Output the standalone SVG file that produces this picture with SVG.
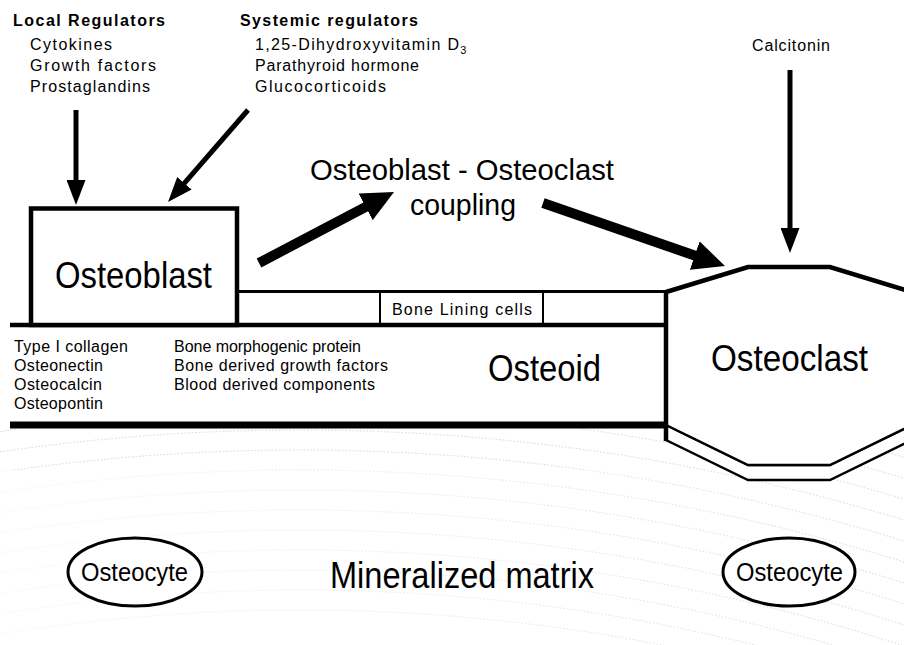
<svg xmlns="http://www.w3.org/2000/svg" width="904" height="645" viewBox="0 0 904 645">
<style>
text{font-family:"Liberation Sans",Arial,sans-serif;fill:#000}
.hd{font-size:16px;font-weight:bold}
.sm{font-size:16px}
.big{font-size:36px}
.cp{font-size:30px}
.oc{font-size:25px}
.thin{stroke:#000;stroke-width:5;fill:none;marker-end:url(#ah)}
.thick{stroke:#000;stroke-width:10;fill:none;marker-end:url(#bh)}
.tex{fill:none;stroke:#d4d4d4;stroke-width:1;stroke-dasharray:1.5 2}
</style>
<defs>
<marker id="ah" markerUnits="userSpaceOnUse" markerWidth="26" markerHeight="19" viewBox="0 0 26 19" refX="4" refY="9.5" orient="auto"><path d="M0,0 L25,9.5 L0,19 z" fill="#000"/></marker>
<marker id="bh" markerUnits="userSpaceOnUse" markerWidth="33" markerHeight="30" viewBox="0 0 33 30" refX="6" refY="15" orient="auto"><path d="M0,0 L32,15 L0,30 z" fill="#000"/></marker>
<clipPath id="mat"><rect x="0" y="429" width="904" height="216"/></clipPath>
<linearGradient id="fade" x1="0" y1="0" x2="1" y2="0">
<stop offset="0" stop-color="#fff" stop-opacity="0.75"/>
<stop offset="0.6" stop-color="#fff" stop-opacity="0.35"/>
<stop offset="1" stop-color="#fff" stop-opacity="0"/>
</linearGradient>
</defs>
<rect width="904" height="645" fill="#fff"/>
<g id="texture" clip-path="url(#mat)">
<circle class="tex" cx="300" cy="2500" r="2150"/>
<circle class="tex" cx="300" cy="2500" r="2130"/>
<circle class="tex" cx="300" cy="2500" r="2110"/>
<circle class="tex" cx="300" cy="2500" r="2090"/>
<circle class="tex" cx="300" cy="2500" r="2070"/>
<circle class="tex" cx="300" cy="2500" r="2050"/>
<circle class="tex" cx="300" cy="2500" r="2030"/>
<circle class="tex" cx="300" cy="2500" r="2010"/>
<circle class="tex" cx="300" cy="2500" r="1990"/>
<circle class="tex" cx="300" cy="2500" r="1970"/>
<circle class="tex" cx="300" cy="2500" r="1950"/>
<circle class="tex" cx="300" cy="2500" r="1930"/>
<circle class="tex" cx="300" cy="2500" r="1910"/>
<circle class="tex" cx="300" cy="2500" r="1890"/>
<rect x="0" y="470" width="904" height="175" fill="url(#fade)"/>
</g>
<g id="regulator-labels">
<text class="hd" x="13" y="26" textLength="152">Local Regulators</text>
<text class="sm" x="30" y="50" textLength="82">Cytokines</text>
<text class="sm" x="30" y="71" textLength="126">Growth factors</text>
<text class="sm" x="30" y="92" textLength="120">Prostaglandins</text>
<text class="hd" x="240" y="26" textLength="178">Systemic regulators</text>
<text class="sm" x="255" y="50"><tspan textLength="204">1,25-Dihydroxyvitamin D</tspan><tspan font-size="11" dy="4">3</tspan></text>
<text class="sm" x="255" y="71" textLength="164">Parathyroid hormone</text>
<text class="sm" x="255" y="92" textLength="131">Glucocorticoids</text>
<text class="sm" x="752" y="51" textLength="78">Calcitonin</text>
</g>
<g id="layers">
<line x1="237" y1="291.5" x2="666" y2="291.5" stroke="#000" stroke-width="3"/>
<line x1="380" y1="292" x2="380" y2="325" stroke="#000" stroke-width="2"/>
<line x1="543" y1="292" x2="543" y2="325" stroke="#000" stroke-width="2"/>
<line x1="10" y1="325" x2="666" y2="325" stroke="#000" stroke-width="4.5"/>
<line x1="10" y1="425" x2="666" y2="425" stroke="#000" stroke-width="7"/>
</g>
<g id="bone-lining-cells">
<text class="sm" x="392" y="315" textLength="140">Bone Lining cells</text>
</g>
<g id="osteoid">
<text class="sm" x="14" y="352" textLength="114">Type I collagen</text>
<text class="sm" x="14" y="371" textLength="89">Osteonectin</text>
<text class="sm" x="14" y="390" textLength="88">Osteocalcin</text>
<text class="sm" x="14" y="409" textLength="89">Osteopontin</text>
<text class="sm" x="174" y="352" textLength="187">Bone morphogenic protein</text>
<text class="sm" x="174" y="371" textLength="214">Bone derived growth factors</text>
<text class="sm" x="174" y="390" textLength="201">Blood derived components</text>
<text class="big" x="488" y="381" textLength="113" lengthAdjust="spacingAndGlyphs">Osteoid</text>
</g>
<g id="osteoblast">
<rect x="31" y="208.5" width="206" height="116.5" fill="#fff" stroke="#000" stroke-width="4.5"/>
<text class="big" x="55" y="288" textLength="157" lengthAdjust="spacingAndGlyphs">Osteoblast</text>
</g>
<g id="osteoclast">
<polygon points="666,425 748,465 830,465 912,425 912,440 830,480 748,480 666,440" fill="#fff" stroke="#000" stroke-width="2.5" stroke-linejoin="miter"/>
<polygon points="666,292 748,267 830,267 912,292 912,425 830,465 748,465 666,425" fill="#fff" stroke="none"/>
<path d="M666,425 L748,465 L830,465 L912,425" fill="none" stroke="#000" stroke-width="2.5"/>
<path d="M666,441 L666,292 L748,267 L830,267 L912,292" fill="none" stroke="#000" stroke-width="4.5" stroke-linejoin="miter"/>
<text class="big" x="711" y="371" textLength="157" lengthAdjust="spacingAndGlyphs">Osteoclast</text>
</g>
<g id="coupling">
<text class="cp" x="310" y="180" textLength="304" lengthAdjust="spacingAndGlyphs">Osteoblast - Osteoclast</text>
<text class="cp" x="410" y="215" textLength="106" lengthAdjust="spacingAndGlyphs">coupling</text>
</g>
<g id="osteocyte-left">
<ellipse cx="135" cy="572" rx="67" ry="34" fill="#fff" stroke="#000" stroke-width="3"/>
<text class="oc" x="81" y="581" textLength="107" lengthAdjust="spacingAndGlyphs">Osteocyte</text>
</g>
<g id="osteocyte-right">
<ellipse cx="789" cy="572" rx="66" ry="34" fill="#fff" stroke="#000" stroke-width="3"/>
<text class="oc" x="736" y="581" textLength="107" lengthAdjust="spacingAndGlyphs">Osteocyte</text>
</g>
<g id="matrix">
<text class="big" x="330" y="588" textLength="264" lengthAdjust="spacingAndGlyphs">Mineralized matrix</text>
</g>
<g id="connectors">
<line class="thin" x1="76" y1="110" x2="76" y2="184"/>
<line class="thin" x1="248" y1="110" x2="181.8" y2="186.2"/>
<line class="thin" x1="790" y1="70" x2="790" y2="232"/>
<line class="thick" x1="259" y1="263" x2="371" y2="204.1"/>
<line class="thick" x1="543" y1="203" x2="700.4" y2="257.5"/>
</g>
</svg>
